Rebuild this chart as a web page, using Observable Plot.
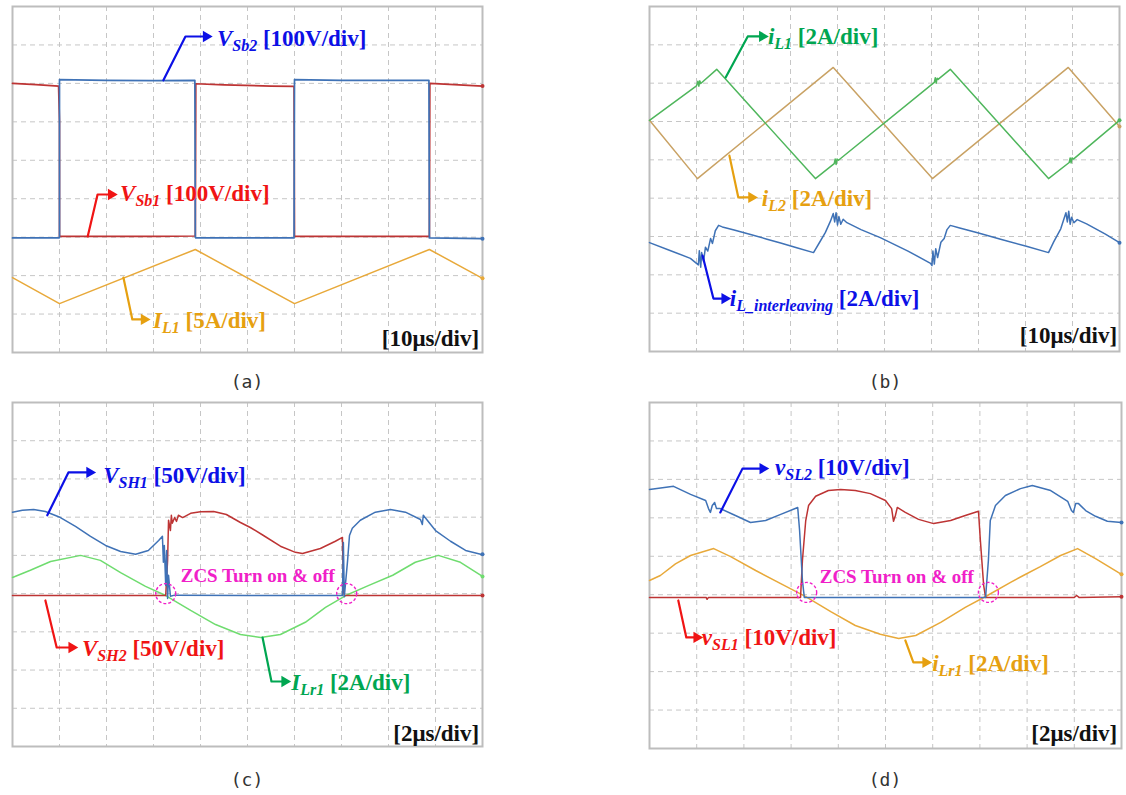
<!DOCTYPE html>
<html><head><meta charset="utf-8">
<script src="https://cdn.jsdelivr.net/npm/d3@7"></script>
<script src="https://cdn.jsdelivr.net/npm/@observablehq/plot@0.6"></script>
<style>
body{margin:0;background:#fff;width:1126px;height:795px;position:relative;overflow:hidden}
.panel{position:absolute}
.panel svg{overflow:visible;display:block}
.cap{position:absolute;font-family:"DejaVu Sans Mono",monospace;font-size:18px;color:#333;transform:translate(-50%,-50%)}
</style></head><body>
<div id="pa" class="panel" style="left:12px;top:6px"></div>
<div id="pb" class="panel" style="left:649px;top:6px"></div>
<div id="pc" class="panel" style="left:12px;top:402px"></div>
<div id="pd" class="panel" style="left:649px;top:402px"></div>
<div class="cap" style="left:247px;top:381px">(a)</div>
<div class="cap" style="left:885px;top:381px">(b)</div>
<div class="cap" style="left:247px;top:779px">(c)</div>
<div class="cap" style="left:885px;top:779px">(d)</div>
<script>
// ---- grid (divisions) ----
const gridX = [1,2,3,4,5,6,7,8,9];
const gridY = [1,2,3,4,5,6,7,8];

// ---- (a) [time div, value div] ----
const a_VSb1 = [[0,7.0],[0.5,6.97],[0.98,6.93],[1.0,6.0],[1.0,3.02],[2,3.02],[3,3.02],[3.89,3.03],[3.9,6.99],[4.5,6.96],[5.5,6.93],[5.99,6.92],[6.0,3.02],[7,3.02],[8,3.02],[8.87,3.02],[8.88,7.0],[9.5,6.96],[10,6.93]];
const a_VSb2 = [[0,2.98],[0.99,2.98],[1.0,3.0],[1.0,7.1],[2,7.08],[3,7.07],[3.88,7.08],[3.89,3.0],[3.9,2.98],[5,2.98],[5.99,2.98],[6.0,7.1],[7,7.08],[8,7.08],[8.86,7.08],[8.87,2.98],[10,2.96]];
const a_IL1 = [[0,1.95],[1.0,1.27],[3.89,2.68],[6.0,1.27],[8.87,2.68],[10,1.93]];

// ---- (b) ----
const b_iL1 = [[0,6.03],[1.0,6.93],[1.03,7.05],[1.05,6.92],[1.07,7.06],[1.09,6.99],[1.43,7.36],[3.53,4.51],[3.93,4.90],[3.95,5.02],[3.97,4.88],[3.99,5.02],[4.02,4.99],[6.06,7.02],[6.08,7.14],[6.10,7.0],[6.12,7.13],[6.14,7.1],[6.40,7.36],[8.49,4.51],[8.93,4.93],[8.95,5.05],[8.97,4.92],[8.99,5.05],[9.02,5.02],[10,6.03]];
const b_iL2 = [[0,6.03],[1.02,4.51],[3.91,7.41],[6.02,4.51],[8.91,7.41],[10,5.87]];
const b_iLint = [[0,2.84],[0.45,2.63],[0.87,2.43],[1.0,2.30],[1.04,2.26],[1.06,2.63],[1.09,2.20],[1.11,2.58],[1.15,2.35],[1.19,2.72],[1.24,2.62],[1.30,2.95],[1.34,2.82],[1.40,3.15],[1.47,3.29],[1.55,3.25],[1.8,3.17],[2.15,3.05],[2.5,2.93],[2.79,2.83],[3.15,2.70],[3.49,2.58],[3.62,2.85],[3.74,3.10],[3.85,3.40],[3.91,3.60],[3.94,3.38],[3.97,3.62],[4.0,3.30],[4.03,3.52],[4.07,3.32],[4.12,3.45],[4.2,3.36],[4.5,3.18],[4.91,2.97],[5.5,2.62],[5.98,2.30],[6.01,2.24],[6.03,2.62],[6.06,2.28],[6.09,2.68],[6.13,2.45],[6.2,2.85],[6.27,2.95],[6.33,3.18],[6.40,3.29],[6.6,3.22],[7.0,3.09],[7.47,2.93],[8.0,2.75],[8.49,2.58],[8.6,2.86],[8.75,3.2],[8.86,3.62],[8.89,3.38],[8.92,3.66],[8.95,3.32],[8.98,3.5],[9.03,3.36],[9.1,3.44],[9.3,3.33],[9.7,3.06],[10,2.84]];

// ---- (c) ----
const c_VSH1 = [[0,6.13],[0.21,6.18],[0.45,6.20],[0.70,6.15],[1.02,5.99],[1.34,5.76],[1.66,5.50],[1.98,5.26],[2.30,5.10],[2.62,5.03],[2.89,5.13],[3.11,5.39],[3.19,5.50],[3.21,4.82],[3.23,5.26],[3.26,4.21],[3.28,5.13],[3.30,3.87],[3.32,4.48],[3.36,3.93],[3.45,3.96],[5,3.95],[7.02,3.95],[7.04,5.34],[7.06,3.92],[7.13,4.87],[7.17,5.52],[7.23,5.71],[7.40,5.92],[7.72,6.13],[8.04,6.20],[8.36,6.13],[8.68,5.94],[8.72,5.81],[8.74,6.05],[9.0,5.65],[9.32,5.37],[9.64,5.13],[9.96,5.03],[10,5.03]];
const c_VSH2 = [[0,3.95],[2,3.95],[3.26,3.95],[3.30,4.87],[3.32,5.92],[3.36,5.65],[3.38,6.05],[3.40,5.84],[3.45,5.99],[3.49,5.89],[3.53,6.05],[3.62,5.99],[3.79,6.10],[4.0,6.14],[4.28,6.15],[4.55,6.07],[4.85,5.86],[5.06,5.73],[5.34,5.52],[5.70,5.24],[6.02,5.08],[6.17,5.05],[6.55,5.18],[6.87,5.37],[7.02,5.47],[7.04,4.08],[7.06,3.95],[8.5,3.95],[10,3.95]];
const c_ILr1 = [[0,4.42],[0.38,4.61],[0.81,4.84],[1.45,5.0],[1.87,4.87],[2.30,4.55],[2.83,4.19],[3.26,3.95],[3.79,3.56],[4.32,3.19],[4.85,2.93],[5.28,2.85],[5.70,2.93],[6.23,3.25],[6.66,3.64],[7.09,3.95],[7.57,4.21],[8.09,4.48],[8.57,4.82],[9.06,5.0],[9.53,4.82],[10,4.45]];

// ---- (d) ----
const d_vSL2 = [[0,6.74],[0.51,6.82],[0.87,6.61],[1.19,6.45],[1.25,6.24],[1.29,6.14],[1.33,6.32],[1.38,6.40],[1.42,6.24],[1.50,6.24],[1.82,6.06],[2.14,5.88],[2.46,5.93],[2.78,6.09],[3.14,6.27],[3.18,5.67],[3.24,4.37],[3.28,3.93],[5,3.93],[7.12,3.93],[7.18,4.89],[7.22,5.93],[7.33,6.32],[7.54,6.58],[7.86,6.76],[8.11,6.84],[8.50,6.71],[8.86,6.43],[8.94,6.19],[8.98,6.14],[9.03,6.37],[9.09,6.37],[9.24,6.19],[9.45,6.04],[9.70,5.91],[10,5.88]];
const d_vSL1 = [[0,3.93],[1.2,3.93],[1.22,3.88],[1.25,3.93],[3.20,3.93],[3.24,4.89],[3.31,5.93],[3.37,6.32],[3.52,6.56],[3.79,6.71],[4.05,6.74],[4.36,6.71],[4.68,6.63],[5.0,6.45],[5.13,6.24],[5.17,5.91],[5.21,6.06],[5.25,6.27],[5.42,6.14],[5.70,5.96],[6.02,5.85],[6.38,5.93],[6.69,6.06],[6.97,6.17],[7.01,5.41],[7.08,4.24],[7.12,3.93],[9.0,3.93],[9.05,3.98],[9.1,3.93],[10,3.95]];
const d_iLr1 = [[0,4.37],[0.23,4.50],[0.55,4.80],[0.87,5.02],[1.36,5.20],[1.72,4.99],[2.25,4.63],[2.78,4.29],[3.31,3.95],[3.84,3.56],[4.36,3.20],[4.89,2.97],[5.28,2.86],[5.64,2.94],[6.17,3.28],[6.69,3.67],[7.16,3.98],[7.65,4.32],[7.92,4.50],[8.28,4.73],[8.71,5.02],[9.07,5.20],[9.45,4.94],[10,4.53]];

// ---- annotations: text parts, anchor (div units), arrow polyline (div units) ----
const labelsA = [
  {parts:[["V","i"],["Sb2","s"],[" [100V/div]",""]], key:"blue", at:[4.36,8.17], arrow:[[3.21,7.08],[3.68,8.22],[4.12,8.22]]},
  {parts:[["V","i"],["Sb1","s"],[" [100V/div]",""]], key:"red", at:[2.30,4.14], arrow:[[1.60,3.02],[1.81,4.11],[2.10,4.11]]},
  {parts:[["I","i"],["L1","s"],[" [5A/div]",""]], key:"gold", at:[3.0,0.83], arrow:[[2.36,1.95],[2.55,0.86],[2.80,0.86]]}
];
const labelsB = [
  {parts:[["i","i"],["L1","s"],[" [2A/div]",""]], key:"green", at:[2.53,8.22], arrow:[[1.62,7.15],[2.09,8.22],[2.40,8.22]]},
  {parts:[["i","i"],["L2","s"],[" [2A/div]",""]], key:"gold", at:[2.40,3.99], arrow:[[1.70,5.11],[1.89,4.02],[2.17,4.02]]},
  {parts:[["i","i"],["L_interleaving","s"],[" [2A/div]",""]], key:"blue", at:[1.72,1.38], arrow:[[1.13,2.50],[1.36,1.38],[1.60,1.38]]}
];
const labelsC = [
  {parts:[["V","i"],["SH1","s"],[" [50V/div]",""]], key:"blue", at:[1.94,7.09], arrow:[[0.74,6.05],[1.19,7.17],[1.64,7.17]]},
  {parts:[["V","i"],["SH2","s"],[" [50V/div]",""]], key:"red", at:[1.49,2.57], arrow:[[0.70,3.82],[0.94,2.59],[1.26,2.59]]},
  {parts:[["I","i"],["Lr1","s"],[" [2A/div]",""]], key:"green", at:[5.94,1.68], arrow:[[5.32,2.85],[5.51,1.70],[5.79,1.70]]}
];
const labelsD = [
  {parts:[["v","i"],["SL2","s"],[" [10V/div]",""]], key:"blue", at:[2.67,7.31], arrow:[[1.50,6.14],[1.97,7.28],[2.40,7.28]]},
  {parts:[["v","i"],["SL1","s"],[" [10V/div]",""]], key:"red", at:[1.12,2.89], arrow:[[0.61,3.85],[0.78,2.89],[1.00,2.89]]},
  {parts:[["i","i"],["Lr1","s"],[" [2A/div]",""]], key:"gold", at:[6.0,2.21], arrow:[[5.42,2.81],[5.59,2.24],[5.85,2.24]]}
];
const zcsText = "ZCS Turn on & off";
const zcsC = {at:[5.23,4.45], circles:[[3.26,4.0],[7.11,4.0]]};
const zcsD = {at:[5.25,4.45], circles:[[3.33,4.06],[7.18,4.06]]};
const timeA = "[10μs/div]", timeB = "[10μs/div]", timeC = "[2μs/div]", timeD = "[2μs/div]";

// ---- styles ----
const labelColor = {blue:"#0c10e6", red:"#f01414", gold:"#e6a010", green:"#00a651"};
const magenta = "#f020c8";
const serif = "'Liberation Serif','Times New Roman',serif";

function drawPanel(id, w, h, traces, labels, zcs, timeText, timeAt) {
  const X = d => d[0], Y = d => d[1];
  const marks = [
    Plot.ruleX(gridX, {x: d => d, stroke:"#c6c6c6", strokeDasharray:"5,4", strokeWidth:1}),
    Plot.ruleY(gridY, {y: d => d, stroke:"#c6c6c6", strokeDasharray:"5,4", strokeWidth:1}),
    Plot.frame({stroke:"#bdbdbd", strokeWidth:2})
  ];
  for (const tr of traces) {
    marks.push(Plot.line(tr.data, {x:X, y:Y, stroke:tr.color, strokeWidth:tr.width || 1.5}));
    marks.push(Plot.dot([tr.data[tr.data.length-1]], {x:X, y:Y, r:2, fill:tr.color}));
  }
  for (const L of labels) {
    marks.push(Plot.line(L.arrow, {x:X, y:Y, stroke:labelColor[L.key], strokeWidth:2.2}));
    marks.push(Plot.dot([L.arrow[L.arrow.length-1]], {x:X, y:Y, symbol:"triangle", rotate:90, r:4.2, fill:labelColor[L.key]}));
  }
  if (zcs) {
    marks.push(Plot.dot(zcs.circles, {x:X, y:Y, r:10, stroke:magenta, strokeDasharray:"3,2", strokeWidth:1.4, fill:"none"}));
  }
  const svg = Plot.plot({width:w, height:h, margin:0, x:{domain:[0,10], axis:null}, y:{domain:[0,9], axis:null}, marks});
  document.getElementById(id).appendChild(svg);
  const sx = svg.scale("x"), sy = svg.scale("y");
  const g = d3.select(svg).append("g").attr("font-family", serif).attr("font-weight", "bold").attr("text-anchor", "start");
  for (const L of labels) {
    const t = g.append("text").attr("x", sx.apply(L.at[0])).attr("y", sy.apply(L.at[1]) + 8)
      .attr("text-anchor", "start").attr("fill", labelColor[L.key]).attr("font-size", 23);
    let shifted = false;
    for (const [s, kind] of L.parts) {
      const sp = t.append("tspan").text(s);
      if (kind === "i") sp.attr("font-style", "italic");
      if (kind === "s") { sp.attr("font-style", "italic").attr("font-size", 16).attr("dy", 5); shifted = true; }
      else if (shifted) { sp.attr("dy", -5); shifted = false; }
    }
  }
  if (zcs) {
    g.append("text").attr("x", sx.apply(zcs.at[0])).attr("y", sy.apply(zcs.at[1]) + 6)
      .attr("text-anchor", "middle").attr("font-size", 19).attr("fill", magenta).text(zcsText);
  }
  g.append("text").attr("x", sx.apply(timeAt[0])).attr("y", sy.apply(timeAt[1]) + 8)
    .attr("text-anchor", "end").attr("font-size", 23).attr("fill", "#111").text(timeText);
}

const cRed = "#bd3434", cBlue = "#3f72b6", cGold = "#e8a93a", cTan = "#c9a264", cGreenB = "#4fb65c", cGreenC = "#6fdc6f";

drawPanel("pa", 470, 346, [
  {data:a_IL1, color:cGold},
  {data:a_VSb1, color:cRed, width:1.7},
  {data:a_VSb2, color:cBlue, width:1.7}
], labelsA, null, timeA, [9.94,0.36]);

drawPanel("pb", 470, 345, [
  {data:b_iL2, color:cTan},
  {data:b_iL1, color:cGreenB},
  {data:b_iLint, color:cBlue}
], labelsB, null, timeB, [9.96,0.42]);

drawPanel("pc", 470, 344, [
  {data:c_ILr1, color:cGreenC},
  {data:c_VSH2, color:cRed},
  {data:c_VSH1, color:cBlue}
], labelsC, zcsC, timeC, [9.94,0.34]);

drawPanel("pd", 472, 346, [
  {data:d_iLr1, color:cGold},
  {data:d_vSL1, color:cRed},
  {data:d_vSL2, color:cBlue}
], labelsD, zcsD, timeD, [9.92,0.39]);
</script>
</body></html>
